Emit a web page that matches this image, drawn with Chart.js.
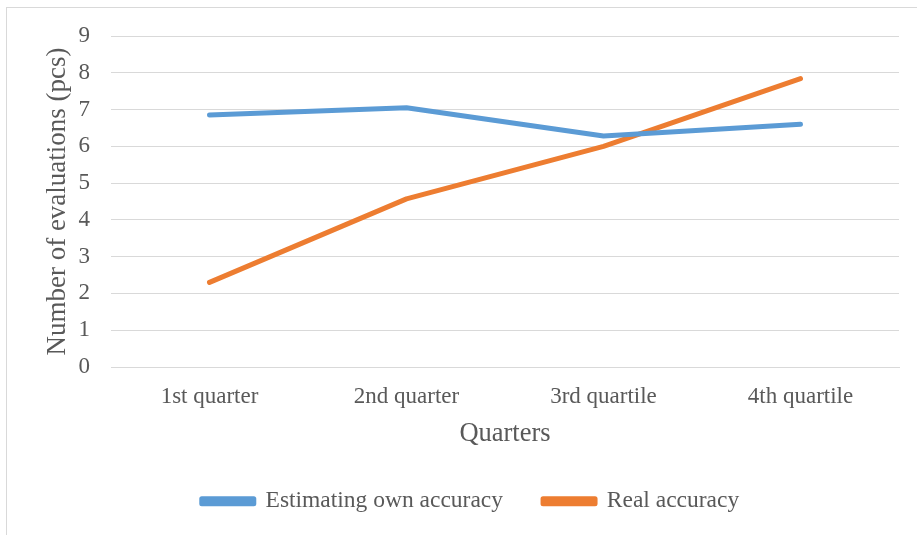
<!DOCTYPE html>
<html>
<head>
<meta charset="utf-8">
<script src="https://cdn.jsdelivr.net/npm/chart.js@4"></script>
<style>
  html, body { margin: 0; padding: 0; background: #fff; overflow: hidden; }
  #frame { position: absolute; left: 6px; top: 7px; width: 920px; height: 540px;
           border-left: 1px solid #d9d9d9; border-top: 1px solid #d9d9d9; }
  #wrap { position: absolute; left: 0; top: 0; width: 910px; height: 527px; }
</style>
</head>
<body>
<div id="frame"><div id="wrap"><canvas id="chart"></canvas></div></div>
<script>
var quarters = ['1st quarter', '2nd quarter', '3rd quartile', '4th quartile'];
var estimatedAccuracy = [6.85, 7.05, 6.28, 6.6];
var realAccuracy = [2.3, 4.57, 6.0, 7.84];
var yTicks = [0, 1, 2, 3, 4, 5, 6, 7, 8, 9];

var textColor = '#595959';
var serif = '"Liberation Serif", "Times New Roman", serif';

var ctx = document.getElementById('chart').getContext('2d');
var chart = new Chart(ctx, {
  type: 'line',
  data: {
    labels: quarters,
    datasets: [{
      label: 'Estimating own accuracy',
      data: estimatedAccuracy,
      borderColor: '#5b9bd5',
      backgroundColor: '#5b9bd5',
      borderWidth: 5,
      borderCapStyle: 'round',
      borderJoinStyle: 'round',
      pointRadius: 0,
      tension: 0
    }, {
      label: 'Real accuracy',
      data: realAccuracy,
      borderColor: '#ed7d31',
      backgroundColor: '#ed7d31',
      borderWidth: 5,
      borderCapStyle: 'round',
      borderJoinStyle: 'round',
      pointRadius: 0,
      tension: 0
    }]
  },
  options: {
    responsive: true,
    maintainAspectRatio: false,
    animation: false,
    layout: { padding: { left: 35, right: 18, top: 28, bottom: 12 } },
    plugins: {
      tooltip: { enabled: false },
      legend: {
        position: 'bottom',
        labels: {
          boxWidth: 52,
          boxHeight: 5,
          padding: 40,
          color: textColor,
          font: { family: serif, size: 23.5 }
        }
      }
    },
    scales: {
      x: {
        offset: true,
        grid: { display: false, drawTicks: false },
        border: { display: true, color: '#d9d9d9' },
        ticks: { color: textColor, padding: 16, font: { family: serif, size: 23 } },
        title: { display: true, text: 'Quarters', color: textColor,
                 padding: { top: 0, bottom: 0 }, font: { family: serif, size: 26.5 } },
        afterFit: function (scale) { scale.height = 82.5; }
      },
      y: {
        min: 0,
        max: 9,
        afterBuildTicks: function (scale) {
          scale.ticks = yTicks.map(function (v) { return { value: v }; });
        },
        grid: { color: '#d9d9d9', lineWidth: 1, drawTicks: false },
        border: { display: false },
        ticks: { color: textColor, padding: 21, font: { family: serif, size: 23 } },
        title: { display: true, text: 'Number of evaluations (pcs)', color: textColor,
                 padding: 0, font: { family: serif, size: 27 } },
        afterFit: function (scale) {
          scale.width = 69;
          scale.paddingTop = 0;
          scale.paddingBottom = 0;
        }
      }
    }
  }
});
</script>
</body>
</html>
